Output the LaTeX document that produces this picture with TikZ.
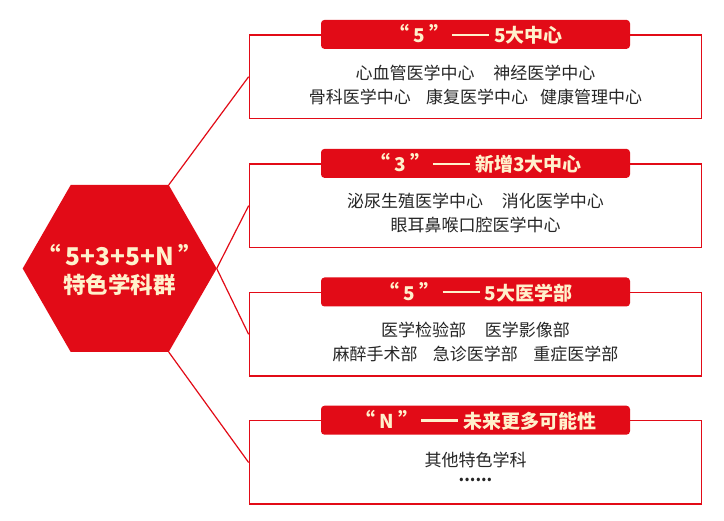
\documentclass[tikz,border=0pt]{standalone}
\usepackage{fontspec}
\setmainfont{Noto Sans CJK SC}
\definecolor{hred}{HTML}{E20B17}
\definecolor{cream}{HTML}{FFF1CC}
\definecolor{bodytxt}{HTML}{262626}
\newcommand\quoted[1]{{\fontsize{21}{22}\selectfont“}\hspace{4pt}#1\hspace{4pt}{\fontsize{21}{22}\selectfont”}\hspace{2pt}\rule[0.36em]{37pt}{2.2pt}\hspace{5pt}}
\tikzset{
  itembox/.style={draw=hred, line width=1.3pt, minimum width=452.4pt, minimum height=83.3pt, inner sep=0pt},
  titlebar/.style={fill=hred, rounded corners=3.5pt, minimum width=309pt, minimum height=29pt, inner sep=0pt, text=cream, font=\fontsize{19}{22}\selectfont\bfseries},
  bodytext/.style={text=bodytxt, align=center, inner sep=0pt, font=\fontsize{17}{24}\selectfont},
  link/.style={draw=hred, line width=1.2pt}
}
\begin{document}
\begin{tikzpicture}[x=1pt,y=-1pt]
\useasboundingbox[fill=white] (0,0) rectangle (724,521);
% hexagon
\coordinate (hL) at (22.7,268.5);
\coordinate (hTL) at (70.7,185);
\coordinate (hTR) at (168.7,185);
\coordinate (hR) at (216.7,268.5);
\coordinate (hBR) at (168.7,352);
\coordinate (hBL) at (70.7,352);
\fill[hred] (hL) -- (hTL) -- (hTR) -- (hR) -- (hBR) -- (hBL) -- cycle;
\node[align=center, text=cream, inner sep=0pt, font=\fontsize{22.5}{28}\selectfont\bfseries] (htext) at (119.7,269.5) {{\fontsize{24.5}{28}\selectfont “\hspace{5pt}5+3+5+N\hspace{5pt}”}\\特色学科群};
% boxes
\node[itembox] (b1) at (475.5,76.7) {};
\node[itembox] (b2) at (475.5,205.7) {};
\node[itembox] (b3) at (475.5,334.3) {};
\node[itembox] (b4) at (475.5,462.5) {};
% connectors
\draw[link] (hTR) -- (b1.west);
\draw[link] (hR) -- (b2.west);
\draw[link] (hR) -- (b3.west);
\draw[link] (hBR) -- (b4.west);
% titles
\node[titlebar] (t1) at (b1.north) {\quoted{5}5大中心};
\node[titlebar] (t2) at (b2.north) {\quoted{3}新增3大中心};
\node[titlebar] (t3) at (b3.north) {\quoted{5}5大医学部};
\node[titlebar] (t4) at (b4.north) {\quoted{N}未来更多可能性};
% body texts
\node[bodytext] (x1) at (475.5,85.3) {心血管医学中心\hspace{1.1em}神经医学中心\\骨科医学中心\hspace{0.9em}康复医学中心\hspace{0.7em}健康管理中心};
\node[bodytext] (x2) at (475.5,213.4) {泌尿生殖医学中心\hspace{1.1em}消化医学中心\\眼耳鼻喉口腔医学中心};
\node[bodytext] (x3) at (475.5,342) {医学检验部\hspace{1.1em}医学影像部\\麻醉手术部\hspace{0.9em}急诊医学部\hspace{0.9em}重症医学部};
\node[bodytext] (x4) at (475.5,460) {其他特色学科};
\node[text=bodytxt, inner sep=0pt, font=\fontsize{16}{20}\selectfont\bfseries] (x5) at (475.5,480) {......};
\end{tikzpicture}
\end{document}
